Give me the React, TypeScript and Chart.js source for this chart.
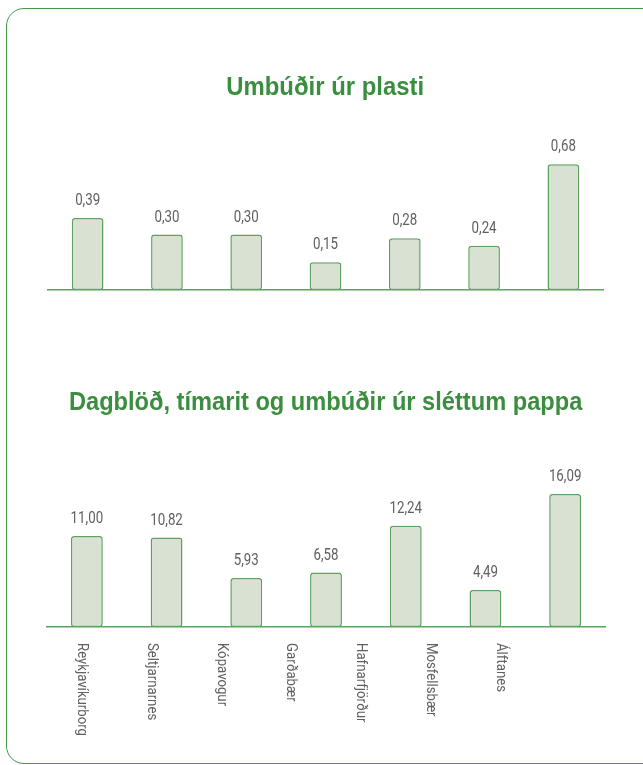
import React, { useEffect, useRef } from "react";
import { Chart, registerables } from "chart.js";

Chart.register(...registerables);

// ---- data ----
const categories = [
  "Reykjavíkurborg",
  "Seltjarnarnes",
  "Kópavogur",
  "Garðabær",
  "Hafnarfjörður",
  "Mosfellsbær",
  "Álftanes",
];
const plastTitle = "Umbúðir úr plasti";
const plastValues = [0.39, 0.3, 0.3, 0.15, 0.28, 0.24, 0.68];
const paperTitle = "Dagblöð, tímarit og umbúðir úr sléttum pappa";
const paperValues = [11.0, 10.82, 5.93, 6.58, 12.24, 4.49, 16.09];

// ---- styles ----
const GREEN_TITLE = "#3b8e3f";
const GREEN_LINE = "#5ca45c";
const BAR_FILL = "#d9e1d3";
const BAR_EDGE = "#5fa05f";
const TEXT_GRAY = "#606060";
const SANS = "'Liberation Sans', Arial, sans-serif";
const LIGHT = "Roboto, 'Liberation Sans', sans-serif";
const CONDENSE = 0.92;
const CONDENSE_SMALL = 0.83;
const CONDENSE_TICK = 0.88;

const fmt = (v: number) => v.toFixed(2).replace(".", ",");

// horizontally condenses the title text (drawn before datasets; the x border has z: 1)
const condensedTitle = {
  id: "condensedTitle",
  beforeDraw(chart: any) {
    const ctx = chart.ctx;
    const cx = chart.width / 2;
    ctx.save();
    ctx.translate(cx, 0);
    ctx.scale(CONDENSE, 1);
    ctx.translate(-cx, 0);
  },
  beforeDatasetsDraw(chart: any) {
    chart.ctx.restore();
  },
};

const valueLabels = {
  id: "valueLabels",
  afterDatasetsDraw(chart: any) {
    const ctx = chart.ctx;
    const meta = chart.getDatasetMeta(0);
    const data = chart.data.datasets[0].data as number[];
    ctx.save();
    ctx.fillStyle = TEXT_GRAY;
    ctx.font = `400 16px ${LIGHT}`;
    ctx.textAlign = "center";
    ctx.textBaseline = "middle";
    meta.data.forEach((bar: any, i: number) => {
      ctx.save();
      ctx.translate(bar.x, bar.y - 17);
      ctx.scale(CONDENSE_SMALL, 1);
      ctx.fillText(fmt(data[i]), 0, 0);
      ctx.restore();
    });
    ctx.restore();
  },
};

const rotatedLabels = {
  id: "rotatedLabels",
  afterDraw(chart: any) {
    const scale = chart.scales.lab;
    if (!scale) return;
    const ctx = chart.ctx;
    ctx.save();
    ctx.fillStyle = TEXT_GRAY;
    ctx.font = `400 15px ${LIGHT}`;
    ctx.textAlign = "left";
    ctx.textBaseline = "middle";
    const labels = chart.data.labels as string[];
    labels.forEach((lab, i) => {
      const x = scale.getPixelForValue(i);
      const y = chart.chartArea.bottom + 16;
      ctx.save();
      ctx.translate(x, y);
      ctx.rotate(Math.PI / 2);
      ctx.scale(CONDENSE_TICK, 1);
      ctx.fillText(lab, 0, 0);
      ctx.restore();
    });
    ctx.restore();
  },
};

function makeConfig(
  title: string,
  values: number[],
  yMax: number,
  padding: any,
  titlePad: any,
  withLabels: boolean
): any {
  const scales: any = {
    x: {
      type: "category",
      grid: { display: false, drawTicks: false },
      border: { display: true, color: GREEN_LINE, width: 1.5, z: 1 },
      ticks: { display: false },
    },
    y: { display: false, min: 0, max: yMax },
  };
  if (withLabels) {
    scales.lab = {
      type: "linear",
      axis: "x",
      position: "bottom",
      display: false,
      offset: false,
      bounds: "data",
      grid: { offset: false },
      min: -0.5,
      max: 7.5,
    };
  }
  return {
    type: "bar",
    data: {
      labels: categories,
      datasets: [
        {
          data: values,
          backgroundColor: BAR_FILL,
          borderColor: BAR_EDGE,
          borderWidth: 1.5,
          borderRadius: 3,
          borderSkipped: false,
          categoryPercentage: 1,
          barPercentage: 0.4,
        },
      ],
    },
    options: {
      responsive: false,
      animation: false,
      devicePixelRatio: 1,
      layout: { padding },
      scales,
      plugins: {
        legend: { display: false },
        tooltip: { enabled: false },
        title: {
          display: true,
          text: title,
          color: GREEN_TITLE,
          font: { family: SANS, size: 26, weight: "bold", lineHeight: 1.2 },
          padding: titlePad,
        },
      },
    },
    plugins: withLabels
      ? [condensedTitle, valueLabels, rotatedLabels]
      : [condensedTitle, valueLabels],
  };
}

function BarCanvas(props: { top: number; height: number; config: () => any }) {
  const ref = useRef<HTMLCanvasElement | null>(null);
  useEffect(() => {
    if (!ref.current) return;
    const chart = new Chart(ref.current, props.config());
    return () => chart.destroy();
  }, []);
  return (
    <canvas
      ref={ref}
      width={643}
      height={props.height}
      style={{ position: "absolute", left: 0, top: props.top, width: 643, height: props.height }}
    />
  );
}

export default function App() {
  return (
    <div
      style={{
        position: "fixed",
        left: 0,
        top: 0,
        width: 643,
        height: 765,
        overflow: "hidden",
        background: "#ffffff",
      }}
    >
      <div
        style={{
          position: "absolute",
          left: 6,
          top: 8,
          width: 660,
          height: 756,
          boxSizing: "border-box",
          border: "1.5px solid #45974a",
          borderRadius: 18,
        }}
      />
      <BarCanvas
        top={0}
        height={300}
        config={() =>
          makeConfig(
            plastTitle,
            plastValues,
            0.8,
            { left: 48, right: 40, top: 0, bottom: 10 },
            { top: 72, bottom: 39 },
            false
          )
        }
      />
      <BarCanvas
        top={320}
        height={445}
        config={() =>
          makeConfig(
            paperTitle,
            paperValues,
            18,
            { left: 47, right: 38, top: 0, bottom: 138 },
            { top: 67, bottom: 60 },
            true
          )
        }
      />
    </div>
  );
}
